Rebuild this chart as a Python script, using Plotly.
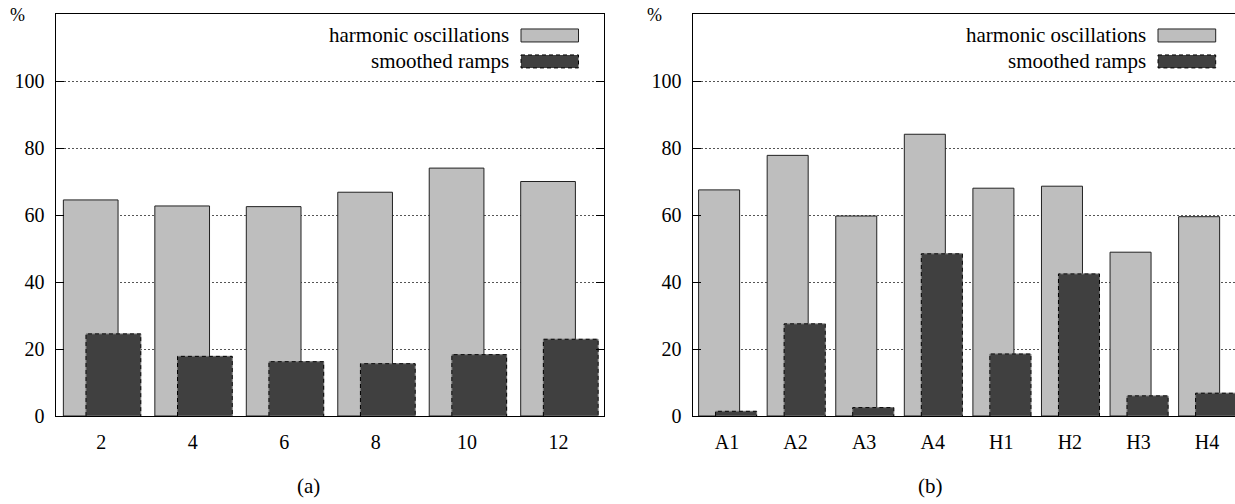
import plotly.graph_objects as go

# ---------------- data ----------------
left_x = [2, 4, 6, 8, 10, 12]
left_harmonic = [64.5, 62.7, 62.5, 66.8, 74.0, 70.0]
left_ramps = [24.5, 17.8, 16.2, 15.6, 18.3, 22.9]

right_cats = ["A1", "A2", "A3", "A4", "H1", "H2", "H3", "H4"]
right_harmonic = [67.5, 77.8, 59.7, 84.1, 68.0, 68.6, 48.9, 59.5]
right_ramps = [1.4, 27.5, 2.5, 48.4, 18.5, 42.4, 6.0, 6.8]

y_ticks = [0, 20, 40, 60, 80, 100]
series_names = ["harmonic oscillations", "smoothed ramps"]
panel_labels = ["(a)", "(b)"]

# ---------------- style ----------------
W, H = 1235, 504
MT, MB = 14, 87.5
FONT = "Liberation Serif, Times New Roman, serif"
GRAY = "#bebebe"
DARK = "#404040"
DASH = "4px,3px"

def px_x(p):
    return p / W

def px_y(p):
    return (H - MB - p) / (H - MT - MB)

fig = go.Figure()

def add_panel(xs, harm, ramps, xa, ya, pitch):
    # bar geometry in units of category pitch
    g_off, d_off, bw = -0.414 * pitch, -0.166 * pitch, 0.598 * pitch
    fig.add_trace(go.Bar(x=xs, y=harm, offset=g_off, width=bw,
                         marker=dict(color=GRAY, line=dict(color="#222", width=1)),
                         xaxis=xa, yaxis=ya, showlegend=False))
    fig.add_trace(go.Bar(x=xs, y=ramps, offset=d_off, width=bw,
                         marker=dict(color=DARK, line=dict(color="#777", width=1)),
                         xaxis=xa, yaxis=ya, showlegend=False))
    # dashed outline of the dark bars
    ox, oy = [], []
    for x, v in zip(xs, ramps):
        x0, x1 = x + d_off, x + d_off + bw
        ox += [x0, x0, x1, x1, None]
        oy += [0, v, v, 0, None]
    fig.add_trace(go.Scatter(x=ox, y=oy, mode="lines",
                             line=dict(color="black", width=1, dash=DASH),
                             xaxis=xa, yaxis=ya, showlegend=False, hoverinfo="skip"))

right_x = list(range(len(right_cats)))
add_panel(left_x, left_harmonic, left_ramps, "x", "y", 2)
add_panel(right_x, right_harmonic, right_ramps, "x2", "y2", 1)

tickfont = dict(family=FONT, size=20, color="black")
axis_common = dict(showline=True, linecolor="black", linewidth=1.2,
                   zeroline=False, tickfont=tickfont)
yax = dict(axis_common, range=[0, 120], tickvals=y_ticks, ticks="inside", ticklen=8,
           tickcolor="black", tickwidth=1, showgrid=True, gridcolor="#555",
           griddash="2px,2px", gridwidth=1, domain=[0, 1], ticklabelstandoff=6)

fig.update_layout(
    width=W, height=H,
    margin=dict(l=0, r=0, t=MT, b=MB),
    paper_bgcolor="white", plot_bgcolor="white",
    barmode="overlay",
    xaxis=dict(axis_common, domain=[px_x(55.5), px_x(604.3)], range=[1, 13],
               tickvals=left_x, ticks="", showgrid=False, mirror=True,
               anchor="y", ticklabelstandoff=8),
    yaxis=dict(yax, anchor="x", mirror="ticks"),
    xaxis2=dict(axis_common, domain=[px_x(692.7), 1], range=[-0.5, -0.5 + (W - 692.7) / 68.575],
                tickvals=right_x, ticktext=right_cats, ticks="", showgrid=False,
                mirror=True, anchor="y2", ticklabelstandoff=8),
    yaxis2=dict(yax, anchor="x2", mirror=False),
)

annos = []
shapes = []
for frame_l, text_r, box_l, box_r, lab_x in [(55.5, 511, 521, 578.5, 308),
                                              (692.7, 1148, 1158, 1215.7, 930)]:
    annos.append(dict(x=px_x(frame_l - 38.5), y=px_y(15), xref="paper", yref="paper",
                      text="%", showarrow=False, xanchor="center", yanchor="middle",
                      font=dict(family=FONT, size=18, color="black")))
    annos.append(dict(x=px_x(lab_x), y=px_y(487), xref="paper", yref="paper",
                      text=panel_labels[0 if frame_l < 600 else 1], showarrow=False,
                      xanchor="center", yanchor="middle",
                      font=dict(family=FONT, size=21, color="black")))
    for i, (name, yc) in enumerate(zip(series_names, [35.5, 61.5])):
        annos.append(dict(x=px_x(text_r), y=px_y(yc), xref="paper", yref="paper",
                          text=name, showarrow=False, xanchor="right", yanchor="middle",
                          font=dict(family=FONT, size=21, color="black")))
        shapes.append(dict(type="rect", xref="paper", yref="paper",
                           x0=px_x(box_l), x1=px_x(box_r),
                           y0=px_y(yc - 6.5), y1=px_y(yc + 6.5),
                           fillcolor=GRAY if i == 0 else DARK,
                           line=dict(color="#222" if i == 0 else "black", width=1,
                                     dash="solid" if i == 0 else DASH)))

fig.update_layout(annotations=annos, shapes=shapes)
fig.write_html("out.html")
